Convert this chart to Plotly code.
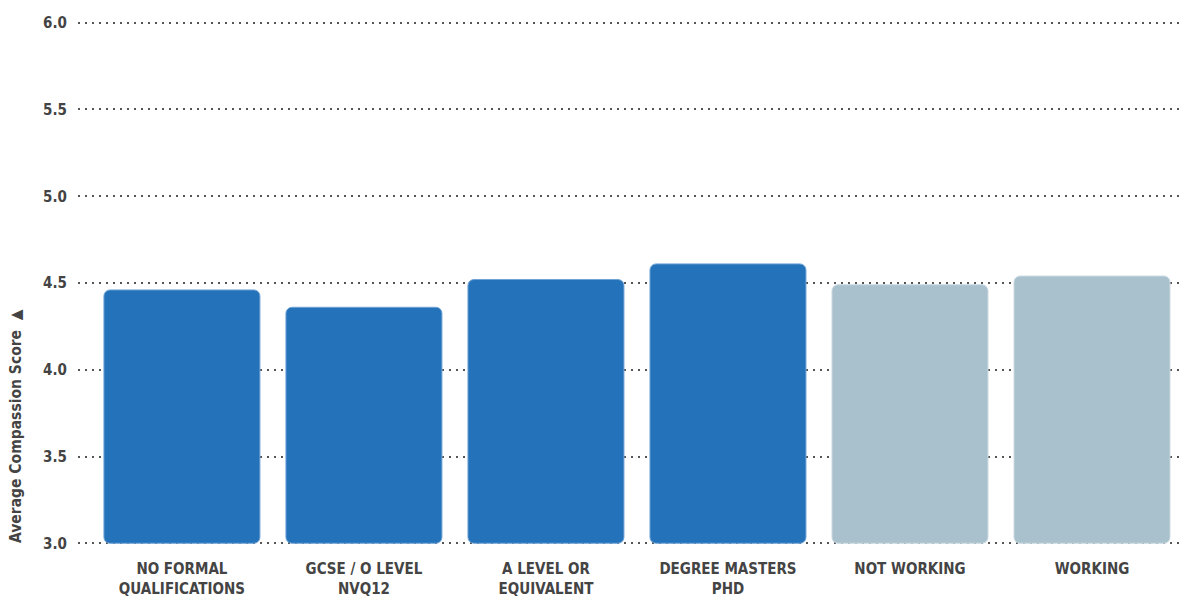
import plotly.graph_objects as go

categories = ["NO FORMAL<br>QUALIFICATIONS", "GCSE / O LEVEL<br>NVQ12", "A LEVEL OR<br>EQUIVALENT",
              "DEGREE MASTERS<br>PHD", "NOT WORKING", "WORKING"]
scores = [4.46, 4.36, 4.52, 4.61, 4.49, 4.54]
groups = ["education", "education", "education", "education", "employment", "employment"]
y_ticks = [3.0, 3.5, 4.0, 4.5, 5.0, 5.5, 6.0]

group_fill = {"education": "#2372BA", "employment": "#A9C1CD"}
group_edge = {"education": "#6FA3D6", "employment": "#CBDAE2"}

FONT = "DejaVu Sans Condensed"
TEXT = "#444444"
Y_MIN, Y_MAX = 3.0, 6.0

fig = go.Figure(go.Bar(
    x=list(range(len(categories))),
    y=[s - Y_MIN for s in scores],
    base=Y_MIN,
    marker=dict(color=[group_fill[g] for g in groups],
                line=dict(color=[group_edge[g] for g in groups], width=1)),
    hoverinfo="skip",
))

fig.update_layout(
    width=1189, height=605,
    margin=dict(l=78, r=6, t=21, b=60),
    paper_bgcolor="white", plot_bgcolor="white",
    bargap=0.143,
    barcornerradius=6,
    showlegend=False,
    font=dict(family=FONT, size=14, color=TEXT),
    xaxis=dict(
        tickmode="array", tickvals=list(range(len(categories))), ticktext=categories,
        range=[-0.571, 5.5], showgrid=False, zeroline=False, showline=False,
        ticks="", tickfont=dict(family=FONT, size=15, color=TEXT, weight="bold"),
        ticklabelstandoff=13,
    ),
    yaxis=dict(
        range=[Y_MIN - 0.01, Y_MAX + 0.01], tickmode="array", tickvals=y_ticks,
        ticktext=[f"{v:.1f}" for v in y_ticks],
        showgrid=True, gridcolor="#555555", gridwidth=2, griddash="2px,5px",
        zeroline=False, showline=False, ticks="",
        tickfont=dict(family=FONT, size=15, color=TEXT, weight="bold"),
        ticklabelstandoff=10,
    ),
    annotations=[dict(
        text="Average Compassion Score  \u25B2", textangle=-90,
        xref="paper", yref="paper", x=0, xshift=-62, y=0.0,
        xanchor="center", yanchor="bottom", showarrow=False,
        font=dict(family=FONT, size=15.5, color=TEXT, weight="bold"),
    )],
)

fig.write_html("out.html")
